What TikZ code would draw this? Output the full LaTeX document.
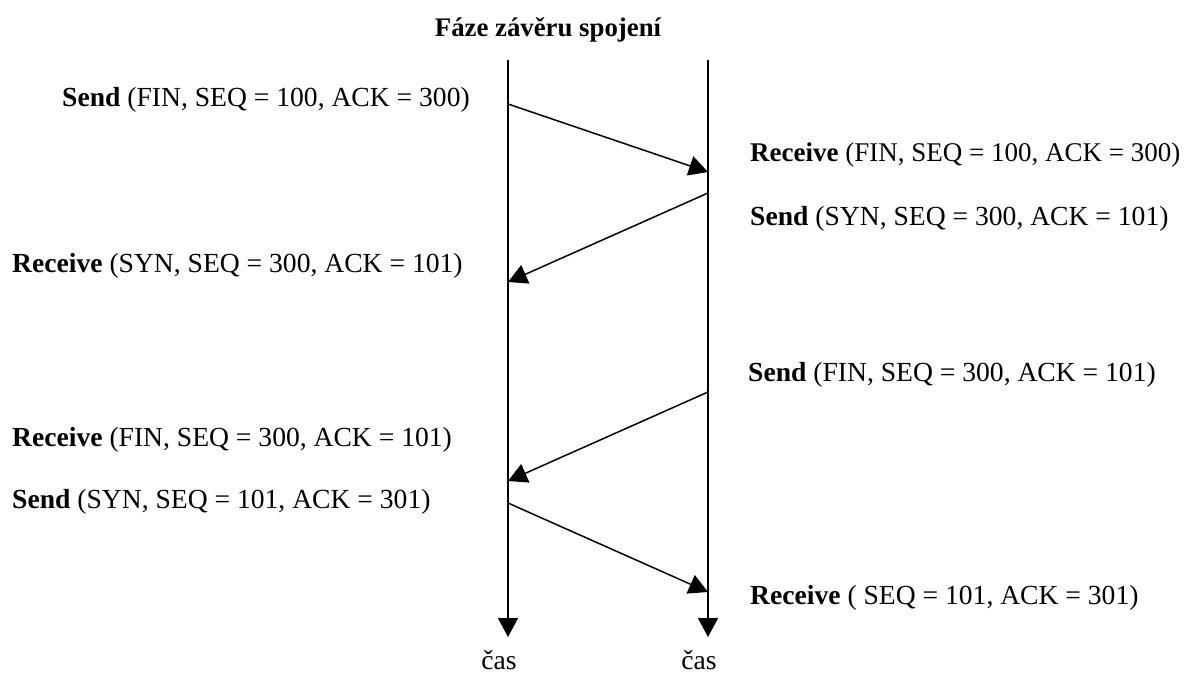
\documentclass[tikz,border=0pt]{standalone}
\usepackage{fontspec}
\setmainfont{Liberation Serif}
\usetikzlibrary{arrows.meta}
\tikzset{
  lbl/.style={inner sep=0pt, anchor=west, font=\fontsize{27.6}{32}\selectfont},
  lblnarrow/.style={lbl, font=\fontsize{27}{32}\selectfont},
  ttl/.style={inner sep=0pt, font=\fontsize{26.8}{32}\selectfont\bfseries},
  caslbl/.style={inner sep=0pt, anchor=base, font=\fontsize{27.6}{32}\selectfont},
  life/.style={line width=1.5pt, -{Triangle[length=19pt,width=20pt]}},
  msg/.style={line width=1.5pt, -{Triangle[length=19pt,width=20pt]}}
}
\begin{document}
\begin{tikzpicture}[x=1pt,y=-1pt]
\useasboundingbox (0,0) rectangle (1186,675);
\node[ttl] (title) at (548,30) {Fáze závěru spojení};
% lifelines
\coordinate (Ltop) at (508,60);
\coordinate (Rtop) at (708,60);
\node[caslbl] (Lcas) at (499,669) {čas};
\node[caslbl] (Rcas) at (699,669) {čas};
\coordinate (Lbot) at (508,637);
\coordinate (Rbot) at (708,637);
\draw[life] (Ltop) -- (Lbot);
\draw[life] (Rtop) -- (Rbot);
% message points
\coordinate (a1) at (508,104);
\coordinate (b1) at (708,172);
\coordinate (b2) at (708,193);
\coordinate (a2) at (508,282);
\coordinate (b3) at (708,392);
\coordinate (a3) at (508,481);
\coordinate (a4) at (508,503);
\coordinate (b4) at (708,592);
\draw[msg] (a1) -- (b1);
\draw[msg] (b2) -- (a2);
\draw[msg] (b3) -- (a3);
\draw[msg] (a4) -- (b4);
% labels
\node[lbl] (t1) at (62,100) {\textbf{Send} (FIN, SEQ = 100, ACK = 300)};
\node[lblnarrow] (t2) at (750,155) {\textbf{Receive} (FIN, SEQ = 100, ACK = 300)};
\node[lbl] (t3) at (750,219) {\textbf{Send} (SYN, SEQ = 300, ACK = 101)};
\node[lbl] (t4) at (12,266) {\textbf{Receive} (SYN, SEQ = 300, ACK = 101)};
\node[lbl] (t5) at (748,375) {\textbf{Send} (FIN, SEQ = 300, ACK = 101)};
\node[lbl] (t6) at (12,440) {\textbf{Receive} (FIN, SEQ = 300, ACK = 101)};
\node[lbl] (t7) at (12,502) {\textbf{Send} (SYN, SEQ = 101, ACK = 301)};
\node[lbl] (t8) at (750,598) {\textbf{Receive} ( SEQ = 101, ACK = 301)};
\end{tikzpicture}
\end{document}
